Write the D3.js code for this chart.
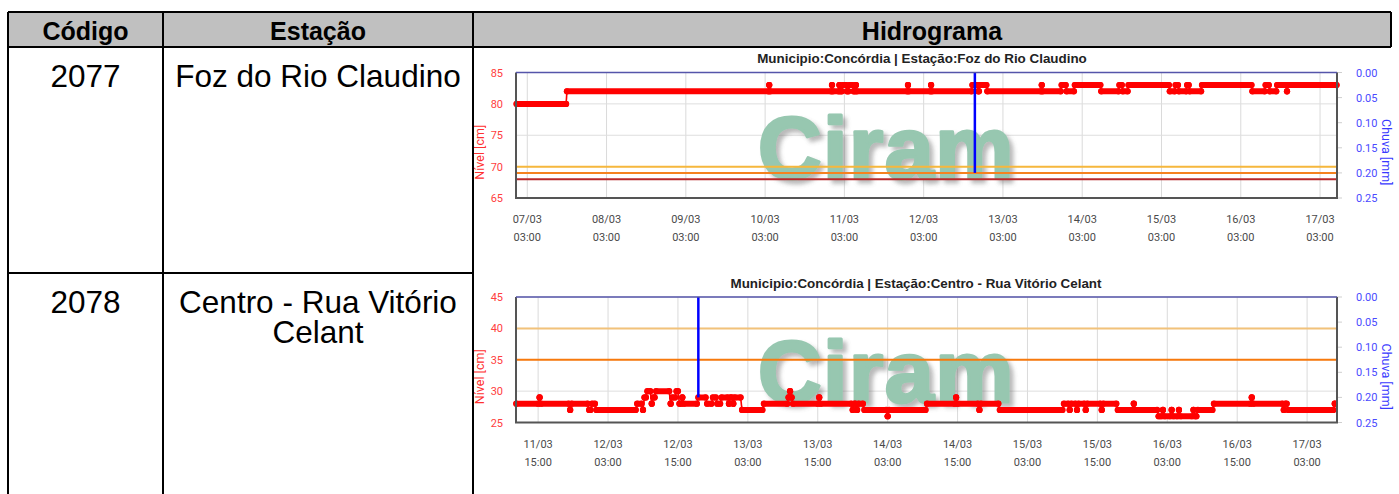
<!DOCTYPE html>
<html><head><meta charset="utf-8">
<script src="https://cdn.jsdelivr.net/npm/d3@7"></script>
<style>body{margin:0;background:#fff}svg{display:block}</style>
</head><body>
<svg id="c" width="1399" height="494"></svg>
<script>
// ---------- DATA ----------
const headers = ["Código", "Estação", "Hidrograma"];
const codes = ["2077", "2078"];
const stationLines = [["Foz do Rio Claudino"], ["Centro - Rua Vitório", "Celant"]];
const chartTitles = ["Municipio:Concórdia | Estação:Foz do Rio Claudino",
                     "Municipio:Concórdia | Estação:Centro - Rua Vitório Celant"];
const levelTicks1 = [65, 70, 75, 80, 85];
const levelTicks2 = [25, 30, 35, 40, 45];
const rainTicks = [0, 0.05, 0.10, 0.15, 0.20, 0.25];
const xTicks1 = ["07/03 03:00","08/03 03:00","09/03 03:00","10/03 03:00","11/03 03:00","12/03 03:00",
                 "13/03 03:00","14/03 03:00","15/03 03:00","16/03 03:00","17/03 03:00"];
const xTicks2 = ["11/03 15:00","12/03 03:00","12/03 15:00","13/03 03:00","13/03 15:00","14/03 03:00",
                 "14/03 15:00","15/03 03:00","15/03 15:00","16/03 03:00","16/03 15:00","17/03 03:00"];
const timeDomain1 = ["06/03 23:35", "17/03 08:08"];
const timeDomain2 = ["11/03 11:12", "17/03 08:08"];
const thresholds1 = [70, 69, 68];
const thresholds2 = [40, 35];
const rain1 = [["12/03 18:30", 0.2]];
const rain2 = [["12/03 18:30", 0.2]];
// level runs: [first reading, last reading, level cm]
const fozRuns = [
 ["06/03 23:45","07/03 14:45",80],["07/03 15:00","10/03 04:00",82],["10/03 04:15","10/03 04:15",83],
 ["10/03 04:30","10/03 23:00",82],["10/03 23:15","10/03 23:15",83],["10/03 23:30","11/03 01:15",82],
 ["11/03 01:30","11/03 01:30",83],["11/03 01:45","11/03 02:15",82],["11/03 02:30","11/03 03:30",83],
 ["11/03 03:45","11/03 04:15",82],["11/03 04:30","11/03 05:30",83],["11/03 05:45","11/03 06:15",82],
 ["11/03 06:30","11/03 06:30",83],["11/03 06:45","11/03 22:00",82],["11/03 22:15","11/03 22:15",83],
 ["11/03 22:30","12/03 05:00",82],["12/03 05:15","12/03 05:15",83],["12/03 05:30","12/03 17:30",82],
 ["12/03 17:45","12/03 19:15",83],["12/03 19:30","12/03 19:45",82],["12/03 20:00","12/03 22:00",83],
 ["12/03 22:15","13/03 14:30",82],["13/03 14:45","13/03 14:45",83],["13/03 15:00","13/03 20:30",82],
 ["13/03 20:45","13/03 22:00",83],["13/03 22:15","14/03 00:30",82],["14/03 00:45","14/03 08:30",83],
 ["14/03 08:45","14/03 14:00",82],["14/03 14:15","14/03 15:00",83],["14/03 15:15","14/03 16:45",82],
 ["14/03 17:00","15/03 05:15",83],["15/03 05:30","15/03 07:00",82],["15/03 07:15","15/03 08:00",83],
 ["15/03 08:15","15/03 10:30",82],["15/03 10:45","15/03 11:15",83],["15/03 11:30","15/03 15:00",82],
 ["15/03 15:15","16/03 06:15",83],["16/03 06:30","16/03 10:15",82],["16/03 10:30","16/03 11:30",83],
 ["16/03 11:45","16/03 13:45",82],["16/03 14:00","16/03 16:45",83],["16/03 17:00","16/03 17:00",82],
 ["16/03 17:15","17/03 08:00",83]
];
const centroRuns = [
 ["11/03 11:15","11/03 15:00",28],["11/03 15:15","11/03 15:15",29],["11/03 15:30","11/03 20:15",28],
 ["11/03 20:30","11/03 20:30",27],["11/03 20:45","11/03 23:30",28],["11/03 23:45","12/03 00:00",27],
 ["12/03 00:15","12/03 00:45",28],["12/03 01:00","12/03 07:45",27],["12/03 08:00","12/03 08:45",28],
 ["12/03 09:00","12/03 09:00",27],["12/03 09:15","12/03 09:30",29],["12/03 09:45","12/03 10:15",30],
 ["12/03 10:30","12/03 10:30",28],["12/03 10:45","12/03 11:00",29],["12/03 11:15","12/03 13:30",30],
 ["12/03 13:45","12/03 13:45",28],["12/03 14:00","12/03 14:30",29],["12/03 14:45","12/03 15:00",30],
 ["12/03 15:15","12/03 15:30",28],["12/03 15:45","12/03 15:45",29],["12/03 16:00","12/03 18:15",28],
 ["12/03 18:30","12/03 19:45",29],["12/03 20:00","12/03 20:45",28],["12/03 21:00","12/03 21:30",29],
 ["12/03 21:45","12/03 22:15",28],["12/03 22:30","12/03 23:30",29],["12/03 23:45","12/03 23:45",28],
 ["13/03 00:00","13/03 00:15",29],["13/03 00:30","13/03 00:30",28],["13/03 00:45","13/03 01:45",29],
 ["13/03 02:00","13/03 05:30",27],["13/03 05:45","13/03 09:45",28],["13/03 10:00","13/03 10:00",29],
 ["13/03 10:15","13/03 10:15",30],["13/03 10:30","13/03 10:30",29],["13/03 10:45","13/03 15:00",28],
 ["13/03 15:15","13/03 15:15",29],["13/03 15:30","13/03 20:45",28],["13/03 21:00","13/03 21:00",27],
 ["13/03 21:15","13/03 21:30",28],["13/03 21:45","13/03 21:45",27],["13/03 22:00","13/03 22:45",28],
 ["13/03 23:00","14/03 02:45",27],["14/03 03:00","14/03 03:00",26],["14/03 03:15","14/03 09:30",27],
 ["14/03 09:45","14/03 14:30",28],["14/03 14:45","14/03 14:45",29],["14/03 15:00","14/03 18:30",28],
 ["14/03 18:45","14/03 18:45",27],["14/03 19:00","14/03 22:00",28],["14/03 22:15","15/03 09:00",27],
 ["15/03 09:15","15/03 10:00",28],["15/03 10:15","15/03 10:15",27],["15/03 10:30","15/03 11:15",28],
 ["15/03 11:30","15/03 11:30",27],["15/03 11:45","15/03 12:45",28],["15/03 13:00","15/03 13:00",27],
 ["15/03 13:15","15/03 15:30",28],["15/03 15:45","15/03 15:45",27],["15/03 16:00","15/03 18:15",28],
 ["15/03 18:30","15/03 21:00",27],["15/03 21:15","15/03 21:15",28],["15/03 21:30","16/03 01:15",27],
 ["16/03 01:30","16/03 02:00",26],["16/03 02:15","16/03 02:15",27],["16/03 02:30","16/03 03:30",26],
 ["16/03 03:45","16/03 03:45",27],["16/03 04:00","16/03 04:45",26],["16/03 05:00","16/03 05:00",27],
 ["16/03 05:15","16/03 07:15",26],["16/03 07:30","16/03 07:30",27],["16/03 07:45","16/03 08:00",26],
 ["16/03 08:15","16/03 10:45",27],["16/03 11:00","16/03 17:15",28],["16/03 17:30","16/03 17:30",29],
 ["16/03 17:45","16/03 22:45",28],["16/03 23:00","16/03 23:00",27],["16/03 23:15","16/03 23:30",28],
 ["16/03 23:45","17/03 07:30",27],["17/03 07:45","17/03 07:45",28]
];

// ---------- DRAW ----------
const svg = d3.select("#c");
const parse = d3.timeParse("%d/%m/%Y %H:%M");
const P = s => parse(s.replace(" ", "/2025 "));
const TF = "'Liberation Sans', Arial, sans-serif";
const LF = "Roboto, 'Liberation Sans', sans-serif";

const defs = svg.append("defs");
const ds = defs.append("filter").attr("id","wmshadow").attr("x","-10%").attr("y","-10%").attr("width","130%").attr("height","130%");
ds.append("feDropShadow").attr("dx",4).attr("dy",4).attr("stdDeviation",2).attr("flood-color","#666").attr("flood-opacity",0.45);
defs.append("filter").attr("id","blur1").append("feGaussianBlur").attr("stdDeviation",0.8);

const T = {left: 8, top: 12, c1: 163, c2: 473, right: 1391, headBottom: 47, rowSep: 273};

// header
svg.append("rect").attr("x",T.left).attr("y",T.top).attr("width",T.right-T.left).attr("height",T.headBottom-T.top).attr("fill","#c0c0c0");
const colCenters = [(T.left+T.c1)/2, (T.c1+T.c2)/2, (T.c2+T.right)/2];
svg.selectAll("text.hdr").data(headers).join("text").attr("class","hdr")
  .attr("x",(d,i)=>colCenters[i]).attr("y",40).attr("text-anchor","middle")
  .attr("font-family",TF).attr("font-weight","bold").attr("font-size",25).attr("fill","#000").text(d=>d);

// body text
const rowBase = [87, 313];
svg.selectAll("text.code").data(codes).join("text").attr("class","code")
  .attr("x",colCenters[0]).attr("y",(d,i)=>rowBase[i]).attr("text-anchor","middle")
  .attr("font-family",TF).attr("font-size",31.5).text(d=>d);
stationLines.forEach((lines,i)=>{
  svg.append("text").attr("text-anchor","middle").attr("font-family",TF).attr("font-size",31.5)
    .selectAll("tspan").data(lines).join("tspan")
    .attr("x",colCenters[1]).attr("y",(d,j)=>rowBase[i]+j*29.5).text(d=>d);
});

function drawChart(cfg){
  const g = svg.append("g");
  const L = 516, R = 1337, top = cfg.top, bottom = cfg.top + 125.5;
  const x = d3.scaleTime().domain(cfg.domain.map(P)).range([L, R]);
  const y = d3.scaleLinear().domain(cfg.yDomain).range([bottom, top]);
  const yr = d3.scaleLinear().domain([0, 0.25]).range([top, bottom]);

  g.append("text").attr("x",cfg.titleX).attr("y",top-9.5).attr("text-anchor","middle")
   .attr("font-family",TF).attr("font-weight","bold").attr("font-size",13.4).attr("fill","#222").text(cfg.title);

  g.append("rect").attr("x",L).attr("y",top).attr("width",R-L).attr("height",bottom-top).attr("fill","#fff");
  // grid
  g.selectAll("line.vg").data(cfg.xTicks).join("line")
    .attr("x1",d=>x(P(d))).attr("x2",d=>x(P(d))).attr("y1",top).attr("y2",bottom)
    .attr("stroke","#dadada").attr("stroke-width",1);
  g.selectAll("line.hg").data(cfg.yTicks).join("line")
    .attr("x1",L).attr("x2",R).attr("y1",d=>y(d)).attr("y2",d=>y(d))
    .attr("stroke","#dedede").attr("stroke-width",1);
  // right ticks
  g.selectAll("line.rt").data(rainTicks).join("line")
    .attr("x1",R).attr("x2",R+5).attr("y1",d=>yr(d)).attr("y2",d=>yr(d))
    .attr("stroke","#cfcfcf").attr("stroke-width",1);

  // watermark
  g.append("text").attr("x",758).attr("y",top+105).attr("font-family",TF).attr("font-weight","bold")
   .attr("font-size",88).attr("letter-spacing",1.5).attr("fill","#97c7b0")
   .attr("stroke","#97c7b0").attr("stroke-width",3).attr("stroke-linejoin","round")
   .attr("filter","url(#wmshadow)").text("Ciram");

  // thresholds
  g.selectAll("line.ths").data(cfg.thresholds).join("line")
    .attr("x1",L).attr("x2",R).attr("y1",d=>y(d)+1.5).attr("y2",d=>y(d)+1.5)
    .attr("stroke","#888").attr("stroke-opacity",0.25).attr("stroke-width",2).attr("filter","url(#blur1)");
  g.selectAll("line.th").data(cfg.thresholds).join("line")
    .attr("x1",L).attr("x2",R).attr("y1",d=>y(d)).attr("y2",d=>y(d))
    .attr("stroke",(d,i)=>cfg.thColors[i]).attr("stroke-width",2);

  // level data
  const runs = cfg.runs;
  g.selectAll("line.conn").data(d3.pairs(runs)).join("line")
    .attr("x1",d=>x(P(d[0][1]))).attr("y1",d=>y(d[0][2]))
    .attr("x2",d=>x(P(d[1][0]))).attr("y2",d=>y(d[1][2]))
    .attr("stroke","#ff0000").attr("stroke-width",1.6);
  g.selectAll("line.run").data(runs).join("line")
    .attr("x1",d=>x(P(d[0]))).attr("x2",d=>x(P(d[1]))).attr("y1",d=>y(d[2])).attr("y2",d=>y(d[2]))
    .attr("stroke","#ff0000").attr("stroke-width",6).attr("stroke-linecap","round");
  g.selectAll("circle.pt").data(runs.flatMap(d=>[[d[0],d[2]],[d[1],d[2]]])).join("circle")
    .attr("cx",d=>x(P(d[0]))).attr("cy",d=>y(d[1])).attr("r",3.1).attr("fill","#ff0000");

  // rain
  g.selectAll("line.rain").data(cfg.rain).join("line")
    .attr("x1",d=>x(P(d[0]))).attr("x2",d=>x(P(d[0]))).attr("y1",top).attr("y2",d=>yr(d[1]))
    .attr("stroke","#0000ff").attr("stroke-width",2.5);

  // borders
  g.append("path").attr("d",`M${L},${top}V${bottom}H${R}V${top}`).attr("fill","none")
   .attr("stroke","#555").attr("stroke-width",2);
  g.append("line").attr("x1",L).attr("x2",R).attr("y1",top).attr("y2",top).attr("stroke","#5555aa").attr("stroke-width",1.5);

  // left labels
  g.selectAll("text.yl").data(cfg.yTicks).join("text")
    .attr("x",503).attr("y",d=>y(d)+4).attr("text-anchor","end")
    .attr("font-family",LF).attr("font-size",11).attr("fill","#ff4040").text(d=>d);
  // right labels
  g.selectAll("text.yr").data(rainTicks).join("text")
    .attr("x",1356).attr("y",d=>yr(d)+4)
    .attr("font-family",LF).attr("font-size",11).attr("fill","#4a4aff").text(d=>d3.format(".2f")(d));
  // axis titles
  const tc = (top+bottom)/2 + 17;
  g.append("text").attr("transform",`translate(484,${tc}) rotate(-90)`).attr("text-anchor","middle")
   .attr("font-family",LF).attr("font-size",12.5).attr("fill","#ff3030").text("Nível [cm]");
  g.append("text").attr("transform",`translate(1382,${tc}) rotate(90)`).attr("text-anchor","middle")
   .attr("font-family",LF).attr("font-size",12.5).attr("fill","#3a3aff").text("Chuva [mm]");
  // x labels
  const xl = g.selectAll("text.xl").data(cfg.xTicks).join("text")
    .attr("text-anchor","middle").attr("font-family",LF).attr("font-size",11).attr("fill","#4a4a4a");
  xl.append("tspan").attr("x",d=>x(P(d))).attr("y",bottom+25).text(d=>d.split(" ")[0]);
  xl.append("tspan").attr("x",d=>x(P(d))).attr("y",bottom+43).text(d=>d.split(" ")[1]);
}

drawChart({top:72.5, title:chartTitles[0], titleX:922, domain:timeDomain1, yDomain:[65,85], yTicks:levelTicks1,
  xTicks:xTicks1, thresholds:thresholds1, thColors:["#f6b73c","#f5821f","#b8282a"], runs:fozRuns, rain:rain1});
drawChart({top:297, title:chartTitles[1], titleX:916, domain:timeDomain2, yDomain:[25,45], yTicks:levelTicks2,
  xTicks:xTicks2, thresholds:thresholds2, thColors:["#f2c27a","#f7790c"], runs:centroRuns, rain:rain2});

// table lines
const lines = [
  [T.left,T.top,T.right,T.top],[T.left,T.headBottom,T.right,T.headBottom],
  [T.left,T.top,T.left,494],[T.c1,T.top,T.c1,494],[T.c2,T.top,T.c2,494],
  [T.right,T.top,T.right,T.headBottom],[T.left,T.rowSep,T.c2,T.rowSep]
];
svg.selectAll("line.tbl").data(lines).join("line")
  .attr("x1",d=>d[0]).attr("y1",d=>d[1]).attr("x2",d=>d[2]).attr("y2",d=>d[3])
  .attr("stroke","#000").attr("stroke-width",2);
</script>
</body></html>
